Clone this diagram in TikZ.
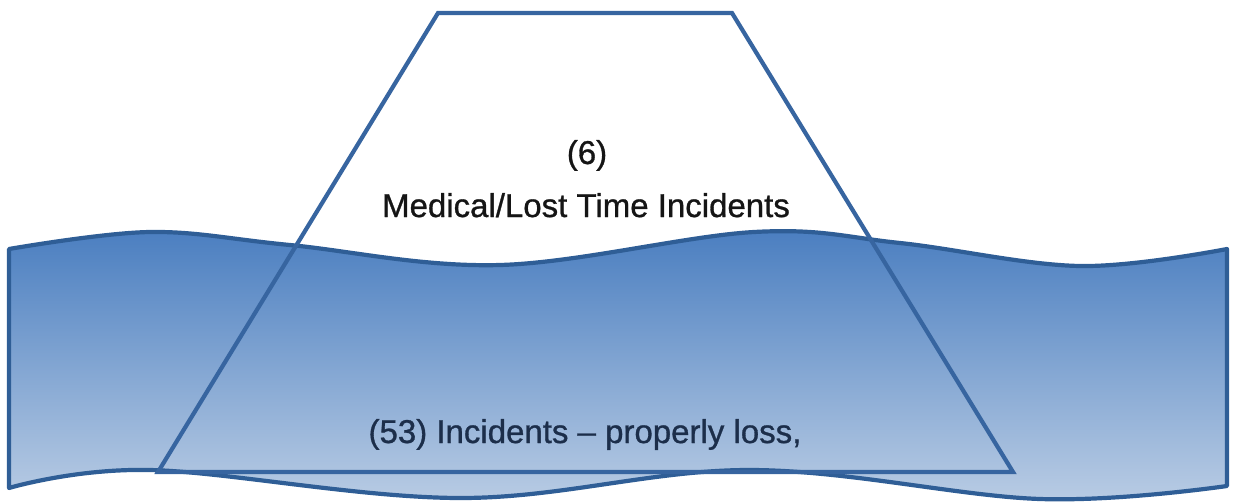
\documentclass[tikz,border=0pt]{standalone}
\usepackage{fontspec}
\setmainfont{Liberation Sans}
\newfontfamily\medfont{Liberation Sans}[FakeBold=0.9]
\definecolor{edge}{HTML}{2F5E96}
\definecolor{trap}{HTML}{3765A0}
\definecolor{watertop}{HTML}{4A7EC0}
\definecolor{waterbot}{HTML}{B9CCE4}
\definecolor{txtdark}{HTML}{151515}
\definecolor{txtnavy}{HTML}{1C2E4A}
\tikzset{
  trapline/.style={draw=trap, line width=4.2pt, line join=miter},
  waterfill/.style={top color=watertop, bottom color=waterbot, draw=edge, line width=4.2pt, line join=round},
  label/.style={font=\medfont\fontsize{33}{38}\selectfont, anchor=base, inner sep=0pt}
}
\begin{document}
\begin{tikzpicture}[x=1pt,y=-1pt]
\useasboundingbox (0,0) rectangle (1233,501);
% water body
\path[waterfill]
  plot[smooth, tension=0.6] coordinates {(9,249) (150,232) (290,245) (500,265) (754,232) (900,243) (1080,266) (1227,249)}
  -- (1227,486)
  -- plot[smooth, tension=0.6] coordinates {(1227,486) (1040,499) (750,470) (461,498) (150,470) (9,488)}
  -- cycle;
% iceberg
\coordinate (tl) at (438,13);
\coordinate (tr) at (732,13);
\coordinate (br) at (1013,472);
\coordinate (bl) at (158,472);
\draw[trapline] (tl) -- (tr) -- (br) -- (bl) -- cycle;
% labels
\node[label, text=txtdark] (six) at (587,164) {(6)};
\node[label, text=txtdark] (med) at (586,217) {Medical/Lost Time Incidents};
\node[label, text=txtnavy] (inc) at (585,443) {(53) Incidents – properly loss,};
\end{tikzpicture}
\end{document}
